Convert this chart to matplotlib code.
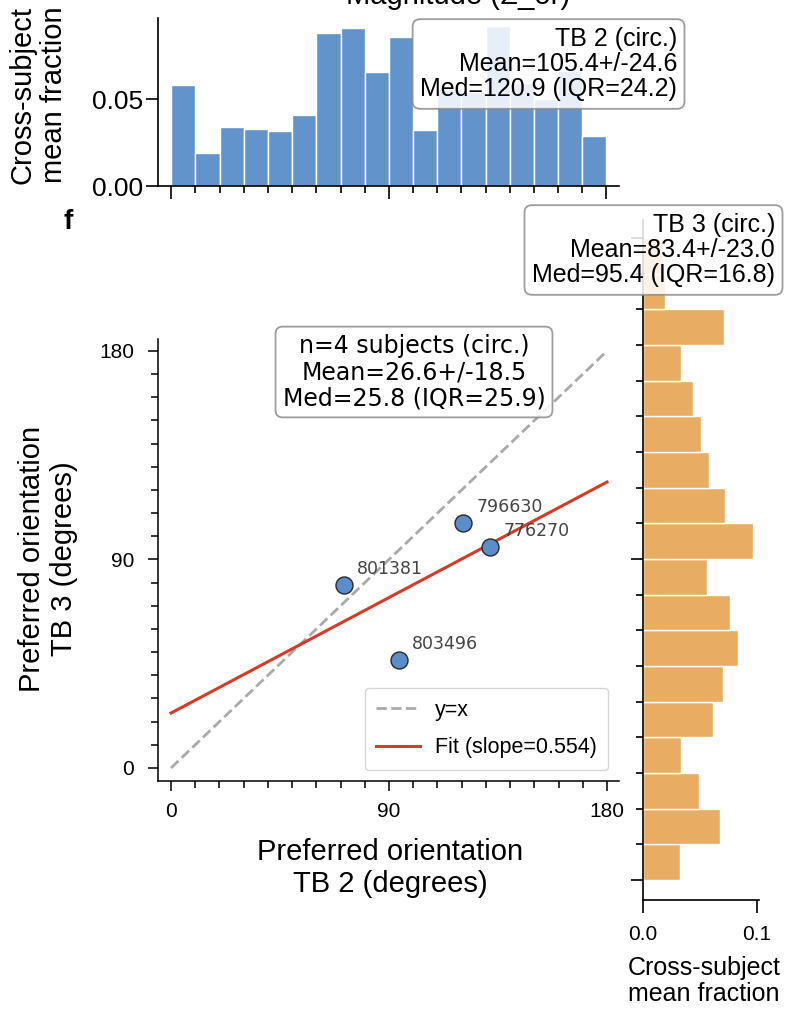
import numpy as np
import matplotlib
matplotlib.use("Agg")
import matplotlib.pyplot as plt
from matplotlib.ticker import MultipleLocator, FixedLocator, NullFormatter, FixedFormatter

# ---- data -------------------------------------------------------------
bin_left = np.arange(0, 180, 10)          # 10-degree orientation bins
tb2_fraction = [0.058, 0.019, 0.034, 0.0326, 0.0317, 0.0406, 0.0877, 0.0911, 0.0658,
                0.0855, 0.0321, 0.056, 0.054, 0.092, 0.059, 0.050, 0.066, 0.0287]
tb3_fraction = [0.0326, 0.0674, 0.0494, 0.0337, 0.0618, 0.0707, 0.0834, 0.0763, 0.0568,
                0.0973, 0.0725, 0.0577, 0.0509, 0.0438, 0.0337, 0.0713, 0.0195, 0.0175]

subjects = ["801381", "796630", "776270", "803496"]
tb2_pref = [71.4, 120.7, 131.7, 94.1]
tb3_pref = [79.0, 105.6, 95.3, 46.6]
fit_slope = 0.554
fit_intercept = 23.7

tb2_stats = ["TB 2 (circ.)", "Mean=105.4+/-24.6", "Med=120.9 (IQR=24.2)"]
tb3_stats = ["TB 3 (circ.)", "Mean=83.4+/-23.0", "Med=95.4 (IQR=16.8)"]
pair_stats = ["n=4 subjects (circ.)", "Mean=26.6+/-18.5", "Med=25.8 (IQR=25.9)"]

orient_ticks = [0, 90, 180]
frac_ticks_top = [0.0, 0.05]
frac_labels_top = ["0.00", "0.05"]
frac_ticks_right = [0.0, 0.1]
frac_labels_right = ["0.0", "0.1"]

# ---- style ------------------------------------------------------------
ARIAL = "Liberation Sans"
DEJAVU = "DejaVu Sans"
plt.rcParams["font.family"] = [ARIAL, "DejaVu Sans"]
BLUE = "#6393cb"
ORANGE = "#e8ad62"
POINT = "#5b8dca"
RED = "#d63a28"

W, H = 787, 1017
fig = plt.figure(figsize=(W / 100, H / 100), dpi=100)


def fx(px):
    return px / W


def fy(py):
    return 1 - py / H


def style_axis(ax, major_len, minor_len, lw=1.2):
    for s in ("top", "right"):
        ax.spines[s].set_visible(False)
    for s in ("left", "bottom"):
        ax.spines[s].set_linewidth(lw)
    ax.tick_params(which="major", length=major_len, width=lw, direction="out")
    ax.tick_params(which="minor", length=minor_len, width=lw, direction="out")


# ---- axes -------------------------------------------------------------
ax_top = fig.add_axes([fx(158), fy(186), 460.5 / W, 168 / H])
ax_sc = fig.add_axes([fx(157.7), fy(780.7), 461.4 / W, 441.3 / H])
ax_rt = fig.add_axes([fx(643), fy(899.6), 116 / W, 679.6 / H])

# top histogram (TB 2)
ax_top.bar(bin_left, tb2_fraction, width=10, align="edge", color=BLUE,
           edgecolor="white", linewidth=1.0)
ax_top.set_xlim(-5.5, 185)
ax_top.xaxis.set_major_locator(FixedLocator(orient_ticks))
ax_top.xaxis.set_minor_locator(MultipleLocator(10))
ax_top.xaxis.set_major_formatter(NullFormatter())
ax_top.yaxis.set_major_locator(FixedLocator(frac_ticks_top))
ax_top.yaxis.set_major_formatter(FixedFormatter(frac_labels_top))
style_axis(ax_top, 9, 5)
ax_top.tick_params(axis="y", labelsize=19, pad=2)

# right histogram (TB 3)
ax_rt.barh(bin_left, tb3_fraction, height=10, align="edge", color=ORANGE,
           edgecolor="white", linewidth=1.0)
ax_rt.set_ylim(-5.5, 185)
ax_rt.yaxis.set_major_locator(FixedLocator(orient_ticks))
ax_rt.yaxis.set_minor_locator(MultipleLocator(10))
ax_rt.yaxis.set_major_formatter(NullFormatter())
ax_rt.xaxis.set_major_locator(FixedLocator(frac_ticks_right))
ax_rt.xaxis.set_major_formatter(FixedFormatter(frac_labels_right))
style_axis(ax_rt, 9, 5)
ax_rt.tick_params(axis="x", labelsize=15, pad=9)

# scatter of preferred orientations
diag = np.array([0, 180])
ax_sc.plot(diag, diag, ls="--", color="#aaaaaa", lw=2.0, label="y=x", zorder=1)
ax_sc.plot(diag, fit_intercept + fit_slope * diag, color=RED, lw=2.2,
           label=f"Fit (slope={fit_slope:.3f})", zorder=2)
ax_sc.scatter(tb2_pref, tb3_pref, s=150, facecolor=POINT, edgecolor="#2a2a2a",
              linewidth=1.0, zorder=3)
for name, x, y in zip(subjects, tb2_pref, tb3_pref):
    ax_sc.annotate(name, (x, y), xytext=(9.5, 11.5), textcoords="offset points",
                   ha="left", va="center", fontsize=12.5, color="#444444",
                   family=DEJAVU, zorder=4)
ax_sc.set_xlim(-5.5, 185)
ax_sc.set_ylim(-5.5, 185)
for axis in (ax_sc.xaxis, ax_sc.yaxis):
    axis.set_major_locator(FixedLocator(orient_ticks))
    axis.set_minor_locator(MultipleLocator(10))
style_axis(ax_sc, 7, 4.8, lw=1.1)
ax_sc.tick_params(axis="both", labelsize=15)
ax_sc.tick_params(axis="y", pad=10)
ax_sc.tick_params(axis="x", pad=8)

leg = ax_sc.legend(loc="lower right", fontsize=15.5, handlelength=2.0,
                   handletextpad=0.7, labelspacing=0.75, borderpad=0.55,
                   frameon=True, fancybox=True, borderaxespad=0.5)
leg.get_frame().set_edgecolor("#cccccc")

# ---- labels -----------------------------------------------------------
fig.text(fx(38), fy(95), "Cross-subject\nmean fraction", rotation=90,
         ha="center", va="center", fontsize=21, linespacing=1.18)
fig.text(fx(48), fy(559), "Preferred orientation\nTB 3 (degrees)", rotation=90,
         ha="center", va="center", fontsize=21, linespacing=1.18)
fig.text(fx(390), fy(868), "Preferred orientation\nTB 2 (degrees)",
         ha="center", va="center", fontsize=21, linespacing=1.18)
fig.text(fx(704), fy(981), "Cross-subject\nmean fraction",
         ha="center", va="center", fontsize=18, linespacing=1.15)
fig.text(fx(68), fy(222), "f", ha="center", va="center", fontsize=20,
         fontweight="bold")
fig.text(fx(458), fy(4), "Magnitude (Σ_or)", ha="center", va="baseline",
         fontsize=21)

box_kw = dict(boxstyle="round,pad=0.3", facecolor="white", edgecolor="#8c8c8c",
              linewidth=1.3, alpha=0.85)
fig.text(fx(677), fy(64), "\n".join(tb2_stats), ha="right", va="center",
         multialignment="right", fontsize=18, linespacing=1.07, bbox=box_kw,
         zorder=10)
fig.text(fx(775), fy(250), "\n".join(tb3_stats), ha="right", va="center",
         multialignment="right", fontsize=18, linespacing=1.07, bbox=box_kw,
         zorder=10)
fig.text(fx(414), fy(372), "\n".join(pair_stats), ha="center", va="center",
         multialignment="center", fontsize=17, linespacing=1.12, family=DEJAVU,
         bbox=box_kw, zorder=10)

fig.savefig("out.png", dpi=100)
